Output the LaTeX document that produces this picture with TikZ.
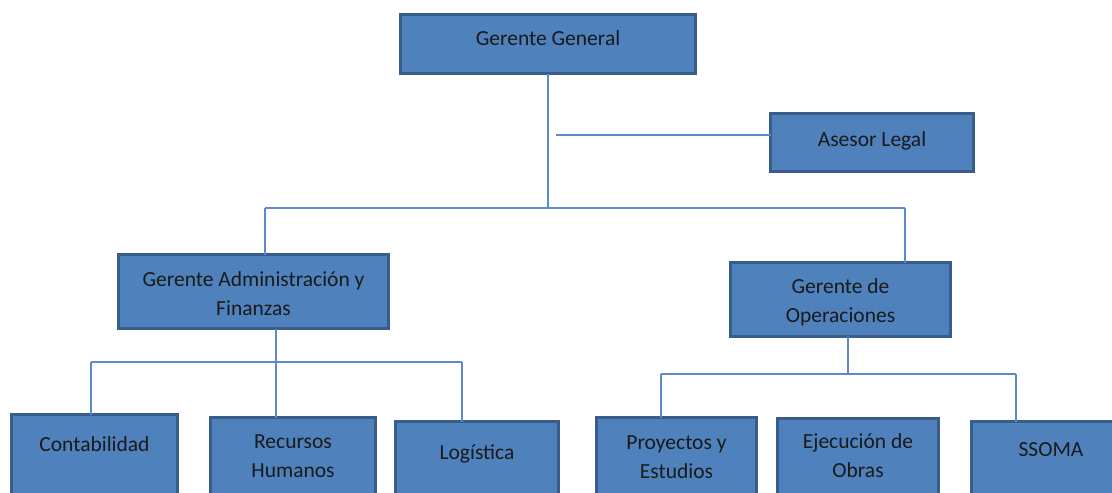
\documentclass[tikz,border=0pt]{standalone}
\usepackage{fontspec}
\setmainfont{Carlito}
\usetikzlibrary{positioning}

\definecolor{boxfill}{HTML}{4F81BD}
\definecolor{boxline}{HTML}{385D8A}
\definecolor{linkline}{HTML}{5C8ACB}
\definecolor{boxink}{HTML}{1A1A1A}

\tikzset{
    orgbox/.style={draw=boxline, line width=3pt, fill=boxfill, inner sep=0pt, outer sep=0pt},
    boxtext/.style={anchor=base, inner sep=0pt, align=center, text=boxink,
        font=\fontsize{21.5}{29}\selectfont},
    link/.style={draw=linkline, line width=1.8pt}
}

\begin{document}
\begin{tikzpicture}[x=1pt, y=-1pt]

        \useasboundingbox (0,0) rectangle (1112,493);
        \clip (0,0) rectangle (1112,493);

        \node[orgbox, minimum width=295, minimum height=59,
            label={[boxtext, yshift=-31pt]north:Gerente General}] (gg) at (548,44) {};
        \node[orgbox, minimum width=203, minimum height=58,
            label={[boxtext, yshift=-33pt]north:Asesor Legal}] (ase) at (872,142.5) {};

        \node[orgbox, minimum width=270, minimum height=74,
            label={[boxtext, yshift=-61pt]north:Gerente Administración y\\Finanzas}] (adm) at (253.5,291.5) {};
        \node[orgbox, minimum width=220, minimum height=74,
            label={[boxtext, yshift=-60pt]north:Gerente de\\Operaciones}] (ope) at (840.5,299.5) {};

        \node[orgbox, anchor=north, minimum width=166, minimum height=84,
            label={[boxtext, yshift=-37pt]north:Contabilidad}] (con) at (94.5,414.5) {};
        \node[orgbox, anchor=north, minimum width=165, minimum height=84,
            label={[boxtext, yshift=-60pt]north:Recursos\\Humanos}] (rh) at (293,417.5) {};
        \node[orgbox, anchor=north, minimum width=163, minimum height=84,
            label={[boxtext, yshift=-38pt]north:Logística}] (log) at (477,421.5) {};

        \node[orgbox, anchor=north, minimum width=160, minimum height=84,
            label={[boxtext, yshift=-61pt]north:Proyectos y\\Estudios}] (pro) at (676.5,417.5) {};
        \node[orgbox, anchor=north, minimum width=161, minimum height=84,
            label={[boxtext, yshift=-59pt]north:Ejecución de\\Obras}] (eje) at (858,418.5) {};
        \node[orgbox, anchor=north, minimum width=160, minimum height=84,
            label={[boxtext, yshift=-35pt]north:SSOMA}] (sso) at (1051,421.5) {};

        \coordinate (topL) at (265,208);
        \coordinate (topR) at (905,208);
        \coordinate (aseJ) at (556,135);
        \coordinate (admJ) at (276,362);
        \coordinate (admL) at (91,362);
        \coordinate (admR) at (462,362);
        \coordinate (opeJ) at (848,374);
        \coordinate (opeL) at (661,374);
        \coordinate (opeR) at (1016,374);

        \draw[link] (gg.south) -- (gg.south |- topL);
        \draw[link] (topL) -- (topR);
        \draw[link] (aseJ) -- (ase.west |- aseJ);
        \draw[link] (topL) -- (topL |- adm.north);
        \draw[link] (topR) -- (topR |- ope.north);

        \draw[link] (admJ |- adm.south) -- (admJ |- rh.north);
        \draw[link] (admL) -- (admR);
        \draw[link] (admL) -- (admL |- con.north);
        \draw[link] (admR) -- (admR |- log.north);

        \draw[link] (opeJ |- ope.south) -- (opeJ);
        \draw[link] (opeL) -- (opeR);
        \draw[link] (opeL) -- (opeL |- pro.north);
        \draw[link] (opeR) -- (opeR |- sso.north);

    \end{tikzpicture}
\end{document}
